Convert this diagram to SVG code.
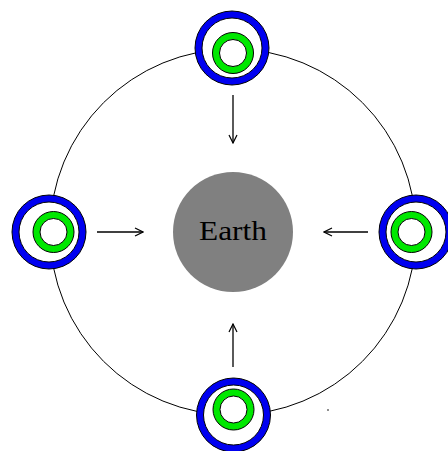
<svg xmlns="http://www.w3.org/2000/svg" width="448" height="451" viewBox="0 0 448 451">
<defs>
<style>
.blue{fill:#0000f0;stroke:#000;stroke-width:1}
.gap{fill:#fff;stroke:#000;stroke-width:1}
.green{fill:#00e800;stroke:#000;stroke-width:1}
.arr{stroke:#000;stroke-width:1.3;fill:none}
</style>
<marker id="ah" viewBox="0 0 10 10" refX="9" refY="5" markerWidth="10" markerHeight="10" markerUnits="userSpaceOnUse" orient="auto">
<path d="M1,1 L9,5 L1,9" fill="none" stroke="#000" stroke-width="1.2"/>
</marker>
</defs>
<rect width="448" height="451" fill="#fff"/>
<circle cx="233" cy="232" r="183" fill="none" stroke="#000" stroke-width="1"/>
<g id="earth">
<circle cx="233" cy="232" r="60" fill="#808080"/>
<text x="233" y="240" text-anchor="middle" font-family="Liberation Serif, serif" font-size="28" textLength="68" lengthAdjust="spacingAndGlyphs" fill="#000">Earth</text>
</g>
<g id="sat-top">
<circle class="blue" cx="232" cy="48" r="37"/>
<circle class="gap" cx="232" cy="48" r="30"/>
<circle class="green" cx="233" cy="53" r="20.5"/>
<circle class="gap" cx="233" cy="53" r="13.5"/>
</g>
<g id="sat-left">
<circle class="blue" cx="49" cy="232" r="37"/>
<circle class="gap" cx="49" cy="232" r="30"/>
<circle class="green" cx="53.5" cy="232" r="20.5"/>
<circle class="gap" cx="53.5" cy="232" r="13.5"/>
</g>
<g id="sat-right">
<circle class="blue" cx="416" cy="232" r="37"/>
<circle class="gap" cx="416" cy="232" r="30"/>
<circle class="green" cx="411.5" cy="232" r="20.5"/>
<circle class="gap" cx="411.5" cy="232" r="13.5"/>
</g>
<g id="sat-bottom">
<circle class="blue" cx="233.5" cy="415" r="37"/>
<circle class="gap" cx="233.5" cy="415" r="30"/>
<circle class="green" cx="233.5" cy="409.5" r="20.5"/>
<circle class="gap" cx="233.5" cy="409.5" r="13.5"/>
</g>
<g id="connectors">
<line class="arr" x1="233" y1="95" x2="233" y2="143" marker-end="url(#ah)"/>
<line class="arr" x1="97" y1="232" x2="143" y2="232" marker-end="url(#ah)"/>
<line class="arr" x1="368" y1="232" x2="324" y2="232" marker-end="url(#ah)"/>
<line class="arr" x1="233" y1="367" x2="233" y2="324" marker-end="url(#ah)"/>
</g>
<circle cx="328" cy="410" r="0.8" fill="#000"/>
</svg>
